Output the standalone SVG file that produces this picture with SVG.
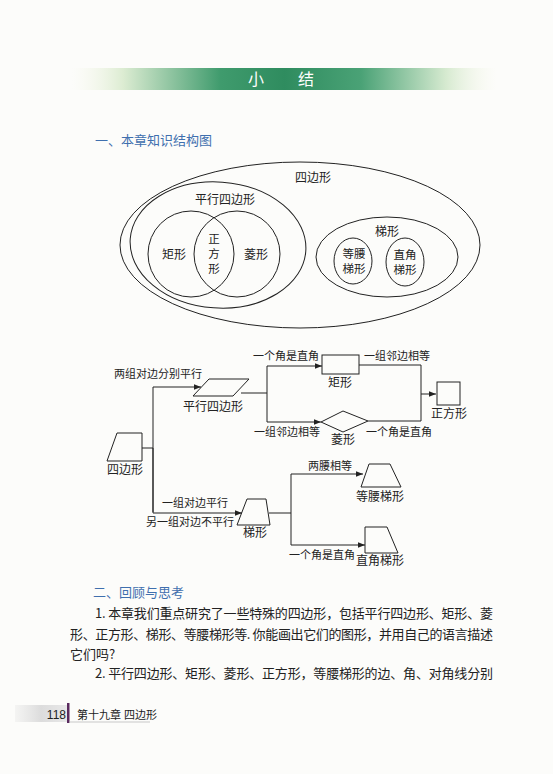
<svg xmlns="http://www.w3.org/2000/svg" width="553" height="774" viewBox="0 0 553 774">
<defs>
<linearGradient id="hdr" x1="0" x2="1" y1="0" y2="0">
<stop offset="0" stop-color="#f6f7e8" stop-opacity="0"/>
<stop offset="0.12" stop-color="#dcecd2"/>
<stop offset="0.35" stop-color="#3f9b6d"/>
<stop offset="0.5" stop-color="#2f8c5f"/>
<stop offset="0.68" stop-color="#4aa276"/>
<stop offset="0.88" stop-color="#d6ead0"/>
<stop offset="1" stop-color="#f6f7e8" stop-opacity="0"/>
</linearGradient>
<linearGradient id="ftr" x1="0" x2="1" y1="0" y2="0">
<stop offset="0" stop-color="#e2e2e2" stop-opacity="0.3"/>
<stop offset="0.5" stop-color="#dcdcdc"/>
<stop offset="1" stop-color="#e8e8e8"/>
</linearGradient>
<marker id="arr" viewBox="0 0 10 10" refX="10" refY="5" markerWidth="7" markerHeight="7" markerUnits="userSpaceOnUse" orient="auto">
<path d="M0,1 L10,5 L0,9 Z" fill="#222"/>
</marker>
<style>
.t{font-family:"Noto Sans CJK SC","Liberation Serif",serif;fill:#222;}
.lbl{font-size:12px;text-anchor:middle;}
.st{font-size:11.5px;text-anchor:middle;}
.sm{font-size:11px;text-anchor:middle;}
.shape{fill:none;stroke:#222;stroke-width:1;}
.ln{fill:none;stroke:#222;stroke-width:1;}
.ar{fill:none;stroke:#222;stroke-width:1;marker-end:url(#arr);}
.sec{font-family:"Noto Sans CJK SC","Liberation Sans",sans-serif;font-size:13px;fill:#3f6fae;}
.body{font-family:"Noto Sans CJK SC","Liberation Serif",serif;font-size:13px;fill:#222;}
</style>
</defs>
<rect width="553" height="774" fill="#fcfcfa"/>

<g id="header">
<rect x="72" y="68" width="425" height="22" fill="url(#hdr)"/>
<text x="256" y="85" font-family="Noto Sans CJK SC,sans-serif" font-size="16" fill="#fff" text-anchor="middle">小</text>
<text x="306" y="85" font-family="Noto Sans CJK SC,sans-serif" font-size="16" fill="#fff" text-anchor="middle">结</text>
</g>

<text class="sec" x="95" y="145">一、本章知识结构图</text>

<!-- Venn diagram -->
<g id="venn-quadrilateral">
<ellipse class="shape" cx="300" cy="245" rx="180" ry="83"/>
<text class="t lbl" x="313" y="182">四边形</text>
</g>
<g id="venn-parallelogram">
<ellipse class="shape" cx="218" cy="245" rx="88" ry="63" transform="rotate(4 218 245)"/>
<text class="t lbl" x="225" y="204">平行四边形</text>
</g>
<g id="venn-rectangle">
<circle class="shape" cx="191" cy="254" r="43"/>
<text class="t lbl" x="174" y="259">矩形</text>
</g>
<g id="venn-rhombus">
<circle class="shape" cx="237" cy="254" r="43"/>
<text class="t lbl" x="256" y="259">菱形</text>
</g>
<g id="venn-square">
<text class="t st" x="214" y="243">正</text>
<text class="t st" x="214" y="258">方</text>
<text class="t st" x="214" y="273">形</text>
</g>
<g id="venn-trapezoid">
<ellipse class="shape" cx="387" cy="257" rx="71" ry="40"/>
<text class="t lbl" x="387" y="236">梯形</text>
</g>
<g id="venn-isosceles">
<ellipse class="shape" cx="353" cy="261" rx="19" ry="23"/>
<text class="t st" x="354" y="258">等腰</text>
<text class="t st" x="354" y="273">梯形</text>
</g>
<g id="venn-right">
<ellipse class="shape" cx="405" cy="262" rx="19" ry="24"/>
<text class="t st" x="405" y="259">直角</text>
<text class="t st" x="405" y="274">梯形</text>
</g>

<!-- Flowchart connectors -->
<g id="connectors">
<polyline class="ln" points="142,448 153,448"/>
<polyline class="ar" points="153,512 153,387 201,387"/>
<polyline class="ar" points="153,448 153,513 242,513"/>
<polyline class="ln" points="241,393 267,393"/>
<polyline class="ar" points="267,393 267,366 322,366"/>
<polyline class="ar" points="267,393 267,422 321,422"/>
<polyline class="ln" points="359,365 421,365 421,421"/>
<polyline class="ln" points="368,421 421,421"/>
<polyline class="ar" points="421,394 436,394"/>
<polyline class="ln" points="269,513 291,513"/>
<polyline class="ar" points="291,513 291,474 363,474"/>
<polyline class="ar" points="291,513 291,545 365,545"/>
<text class="t sm" x="158" y="378">两组对边分别平行</text>
<text class="t sm" x="286" y="360">一个角是直角</text>
<text class="t sm" x="397" y="360">一组邻边相等</text>
<text class="t sm" x="287" y="436">一组邻边相等</text>
<text class="t sm" x="399" y="436">一个角是直角</text>
<text class="t sm" x="195" y="507">一组对边平行</text>
<text class="t sm" x="190" y="526">另一组对边不平行</text>
<text class="t sm" x="330" y="470">两腰相等</text>
<text class="t sm" x="322" y="559">一个角是直角</text>
</g>

<g id="node-quadrilateral">
<polygon class="shape" points="107,461 117,433 142,433 142,461"/>
<text class="t lbl" x="125" y="474">四边形</text>
</g>
<g id="node-parallelogram">
<polygon class="shape" points="193,396 209,379 249,379 233,396"/>
<text class="t lbl" x="213" y="411">平行四边形</text>
</g>
<g id="node-rectangle">
<rect class="shape" x="322" y="355" width="37" height="19"/>
<text class="t lbl" x="340" y="387">矩形</text>
</g>
<g id="node-rhombus">
<polygon class="shape" points="321,422 343,411 368,421 343,432"/>
<text class="t lbl" x="343" y="444">菱形</text>
</g>
<g id="node-square">
<rect class="shape" x="437" y="382" width="23" height="23"/>
<text class="t lbl" x="449" y="418">正方形</text>
</g>
<g id="node-trapezoid">
<polygon class="shape" points="237,525 247,499 266,499 270,525"/>
<text class="t lbl" x="255" y="537">梯形</text>
</g>
<g id="node-isosceles">
<polygon class="shape" points="361,487 369,464 390,464 401,487"/>
<text class="t lbl" x="380" y="501">等腰梯形</text>
</g>
<g id="node-right">
<polygon class="shape" points="365,553 365,527 387,527 398,553"/>
<text class="t lbl" x="380" y="565">直角梯形</text>
</g>

<text class="sec" x="93" y="597">二、回顾与思考</text>
<text class="body" x="95" y="618" textLength="398" lengthAdjust="spacing">1. 本章我们重点研究了一些特殊的四边形，包括平行四边形、矩形、菱</text>
<text class="body" x="70" y="639" textLength="423" lengthAdjust="spacing">形、正方形、梯形、等腰梯形等. 你能画出它们的图形，并用自己的语言描述</text>
<text class="body" x="70" y="659">它们吗?</text>
<text class="body" x="95" y="678" textLength="398" lengthAdjust="spacing">2. 平行四边形、矩形、菱形、正方形，等腰梯形的边、角、对角线分别</text>

<g id="footer">
<rect x="15" y="705" width="52" height="17" fill="url(#ftr)"/>
<text x="66" y="719" font-family="Liberation Sans,sans-serif" font-size="12" fill="#222" text-anchor="end">118</text>
<rect x="67" y="703" width="2.5" height="20" fill="#5a2a5e"/>
<line x1="69" y1="722" x2="150" y2="722" stroke="#bbb" stroke-width="0.8"/>
<text x="77" y="719" font-family="Noto Sans CJK SC,sans-serif" font-size="11" fill="#222">第十九章</text>
<text x="124" y="719" font-family="Noto Sans CJK SC,sans-serif" font-size="11" fill="#222">四边形</text>
</g>
</svg>
